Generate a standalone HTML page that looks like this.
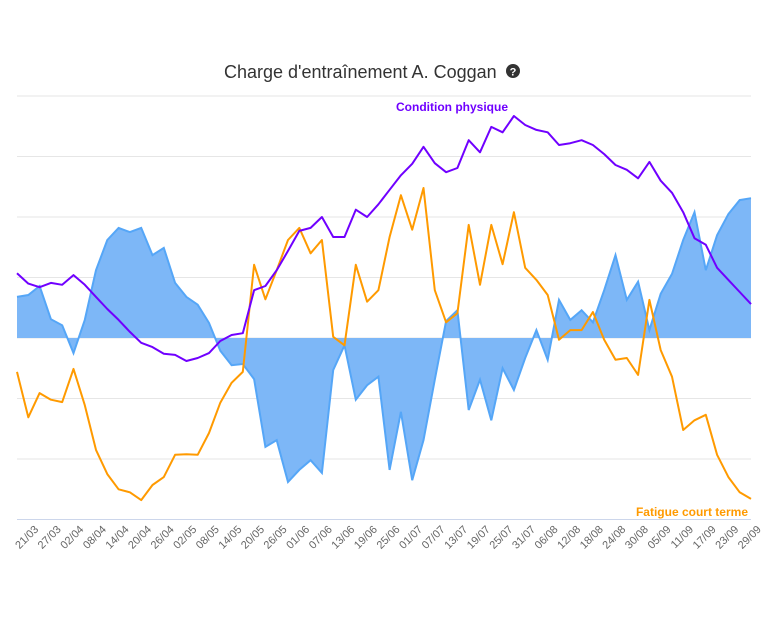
<!DOCTYPE html>
<html><head><meta charset="utf-8"><style>
html,body{margin:0;padding:0;background:#fff;width:768px;height:619px;overflow:hidden}
svg{display:block;font-family:"Liberation Sans",sans-serif}
</style></head><body>
<svg id="chart" width="768" height="619">
<text x="224" y="78" font-size="18" fill="#333">Charge d'entraînement A. Coggan</text>
<g><circle cx="513" cy="71" r="7" fill="#333"/><text x="513" y="75.5" font-size="11" font-weight="bold" fill="#fff" text-anchor="middle">?</text></g>
<g id="grid"></g><g id="area"></g><g id="lines"></g><g id="xlabels"></g>
<text x="452" y="111" font-size="12" font-weight="bold" fill="#7000ff" text-anchor="middle">Condition physique</text>
<text x="748" y="516" font-size="12" font-weight="bold" fill="#ff9a00" text-anchor="end">Fatigue court terme</text>
</svg>
<script>
const days = [];
for (let i = 0; i < 66; i++) days.push(i * 3);
const condition = [10.7,9.0,8.4,9.1,8.8,10.4,8.8,6.8,4.8,3.0,1.0,-0.8,-1.5,-2.6,-2.8,-3.8,-3.3,-2.5,-0.5,0.5,0.8,7.9,8.6,11.2,14.4,17.7,18.2,20.0,16.7,16.7,21.2,20.0,22.1,24.5,26.9,28.8,31.6,28.9,27.4,28.1,32.7,30.7,34.9,34.0,36.7,35.2,34.4,34.0,31.9,32.2,32.7,31.9,30.4,28.6,27.8,26.4,29.1,26.0,24.0,20.8,16.5,15.4,11.6,9.6,7.6,5.6];
const fatigue = [-5.6,-13.1,-9.1,-10.2,-10.6,-5.1,-11.1,-18.5,-22.5,-25.0,-25.5,-26.8,-24.3,-23.0,-19.3,-19.2,-19.3,-15.7,-10.7,-7.4,-5.6,12.1,6.4,11.2,16.2,18.2,14.0,16.2,0.2,-1.2,12.1,6.0,7.9,16.7,23.6,17.9,24.8,7.9,2.6,4.1,18.7,8.8,18.7,12.2,20.8,11.6,9.6,7.1,-0.3,1.3,1.3,4.3,-0.3,-3.6,-3.3,-6.1,6.3,-2.0,-6.4,-15.2,-13.6,-12.7,-19.3,-23.0,-25.5,-26.6];
const form = [6.8,7.1,8.6,3.1,2.1,-2.5,3.0,11.2,16.2,18.2,17.5,18.2,13.7,14.9,9.1,6.8,5.5,2.5,-2.1,-4.5,-4.3,-6.8,-18.0,-16.9,-23.8,-21.8,-20.2,-22.3,-5.3,-1.2,-10.2,-7.8,-6.4,-21.8,-12.2,-23.5,-16.9,-6.9,2.8,4.6,-11.9,-6.9,-13.6,-5.0,-8.6,-3.3,1.3,-3.6,6.3,3.0,4.6,2.6,7.9,13.7,6.3,9.3,1.3,7.3,10.6,16.2,20.8,11.2,17.0,20.5,22.8,23.1];
const yTicks = [40,30,20,10,0,-10,-20,-30];
const tickLabels = ["21/03","27/03","02/04","08/04","14/04","20/04","26/04","02/05","08/05","14/05","20/05","26/05","01/06","07/06","13/06","19/06","25/06","01/07","07/07","13/07","19/07","25/07","31/07","06/08","12/08","18/08","24/08","30/08","05/09","11/09","17/09","23/09","29/09"];
const tickStartDay = 4, tickStep = 6;

const X0 = 17, X1 = 751, Y0 = 338, PXU = 6.05;
const xs = d => X0 + d * (X1 - X0) / 195;
const ys = v => Y0 - v * PXU;
const NS = "http://www.w3.org/2000/svg";
function mk(tag, parent, attrs){const e=document.createElementNS(NS,tag);for(const k in attrs)e.setAttribute(k,attrs[k]);parent.appendChild(e);return e;}

const grid = document.getElementById('grid');
yTicks.forEach(t => {
  const l = mk('line', grid, {x1:X0, x2:X1, y1:ys(t), y2:ys(t), stroke: t===-30 ? '#ccd6eb' : '#e6e6e6', 'stroke-width':1});
  
  
});

const area = document.getElementById('area');
let d = 'M' + xs(days[0]) + ',' + ys(0);
days.forEach((dd,i) => d += ' L' + xs(dd).toFixed(1) + ',' + ys(form[i]).toFixed(1));
d += ' L' + xs(days[days.length-1]) + ',' + ys(0) + ' Z';
const ap = mk('path', area, {d:d, fill:'#7db7f7', stroke:'none'});


const ol = mk('path', area, {d:'M'+days.map((dd,i)=>xs(dd).toFixed(1)+','+ys(form[i]).toFixed(1)).join(' L'), fill:'none', stroke:'#55a6f7', 'stroke-width':2});



const lines = document.getElementById('lines');
function line(vals, color, name){
  const p = mk('path', lines, {d:'M'+days.map((dd,i)=>xs(dd).toFixed(1)+','+ys(vals[i]).toFixed(1)).join(' L'), fill:'none', stroke:color, 'stroke-width':2, 'stroke-linejoin':'round'});
  
  
}
line(fatigue, '#ff9a00', 'fatigue-line');
line(condition, '#7000ff', 'condition-line');

const xl = document.getElementById('xlabels');
tickLabels.forEach((lab,i) => {
  const x = xs(tickStartDay + i*tickStep) + 7;
  const t = mk('text', xl, {x:x, y:530, 'font-size':11, fill:'#666', 'text-anchor':'end', transform:'rotate(-45 '+x+' 530)'});
  t.textContent = lab;
  
  
});
</script>
</body></html>
